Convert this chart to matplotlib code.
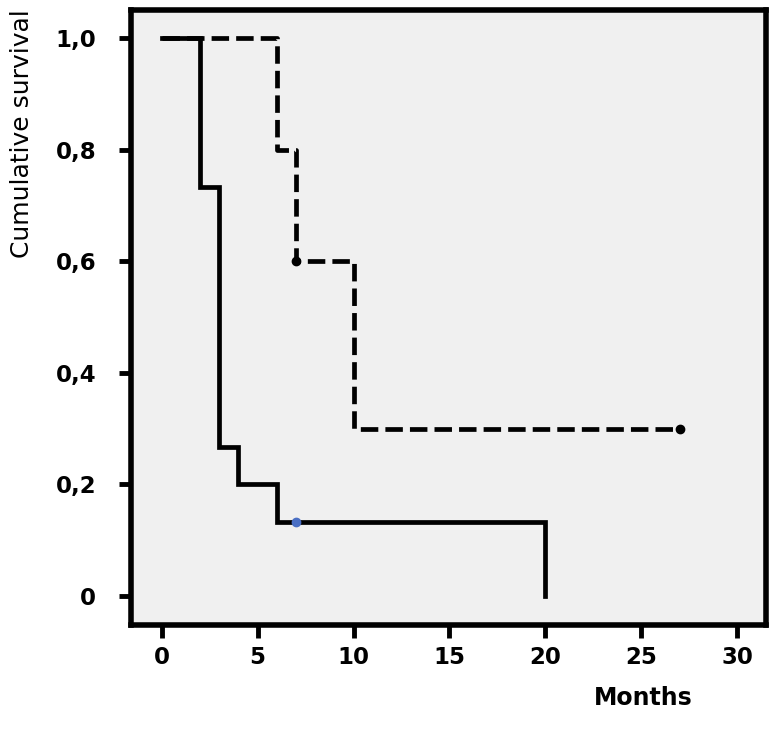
import matplotlib.pyplot as plt

# Kaplan-Meier steps (months, cumulative survival)
solid_t = [0, 2, 3, 4, 6, 20]
solid_s = [1.0, 0.733, 0.267, 0.2, 0.133, 0.0]
solid_cens_t = [7]
solid_cens_s = [0.133]

dash_t = [0, 6, 7, 10, 27]
dash_s = [1.0, 0.8, 0.6, 0.3, 0.3]
dash_cens_t = [7, 27]
dash_cens_s = [0.6, 0.3]

xticks = [0, 5, 10, 15, 20, 25, 30]
yticks = [0, 0.2, 0.4, 0.6, 0.8, 1.0]
ytick_labels = ['0', '0,2', '0,4', '0,6', '0,8', '1,0']

fig = plt.figure(figsize=(7.76, 7.32), dpi=100)
ax = fig.add_axes([0.1688, 0.1462, 0.8183, 0.8401])
ax.set_facecolor('#f0f0f0')

# dashed group first, solid drawn over it
ax.step(dash_t, dash_s, where='post', color='black', lw=3.4,
        linestyle=(0, (3.7, 1.5)), dash_capstyle='butt')
ax.plot(dash_cens_t, dash_cens_s, 'o', color='black', ms=6)

ax.step(solid_t, solid_s, where='post', color='black', lw=3.4,
        solid_joinstyle='miter')
ax.plot(solid_cens_t, solid_cens_s, 'o', color='#4a6fc4', ms=6)

ax.set_xlim(-1.6, 31.5)
ax.set_ylim(-0.052, 1.05)

ax.set_xticks(xticks)
ax.set_xticklabels([str(v) for v in xticks])
ax.set_yticks(yticks)
ax.set_yticklabels(ytick_labels)
ax.tick_params(direction='out', length=9, width=3.5, labelsize=16.5)
ax.tick_params(axis='x', pad=6)
ax.tick_params(axis='y', pad=16)
for lab in ax.get_xticklabels() + ax.get_yticklabels():
    lab.set_fontweight('bold')

for sp in ax.spines.values():
    sp.set_linewidth(4)

fig.text(0.028, 0.988, 'Cumulative survival', rotation=90,
         ha='center', va='top', fontsize=18)
fig.text(0.829, 0.046, 'Months', ha='center', va='center',
         fontsize=17, fontweight='bold')

fig.savefig('out.png', dpi=100)
